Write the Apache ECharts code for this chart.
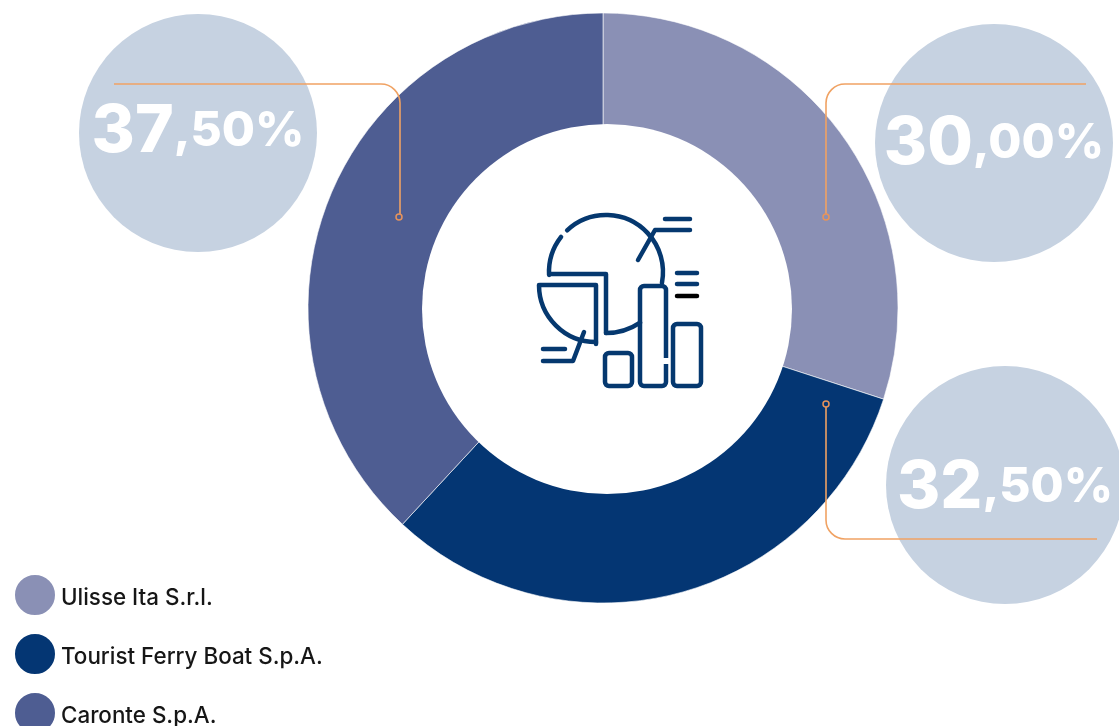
<!DOCTYPE html>
<html><head><meta charset="utf-8">
<style>html,body{margin:0;padding:0;background:#fff;overflow:hidden}#c{width:1119px;height:726px}</style>
<script src="https://cdn.jsdelivr.net/npm/echarts@6/dist/echarts.min.js"></script>
</head><body><div id="c"></div>
<script>
const names = ['Ulisse Ita S.r.l.', 'Tourist Ferry Boat S.p.A.', 'Caronte S.p.A.'];
// Slice sizes as drawn in the picture (the last split sits slightly off the printed shares)
const sliceValues = [30.0, 31.9, 38.1];
const printedValues = ['30,00', '32,50', '37,50'];
const colors = ['#8a90b5', '#043673', '#4e5d92'];
const bubbleCenters = [[994, 143], [1005, 485], [198, 133]];
const textShift = [0, 2, -2];
const ORANGE = '#f0a263', NAVY = '#05386f', F = 'Inter, "Open Sans", sans-serif';
const SW = 4.5;
const rad = d => d * Math.PI / 180;

const line = (x1, y1, x2, y2, color = ORANGE, w = 1.6, cap = 'butt') => ({type: 'line', z: 10, silent: true,
  shape: {x1, y1, x2, y2}, style: {stroke: color, lineWidth: w, lineCap: cap}});
const arc = (cx, cy, r, a, b, color = ORANGE, w = 1.6, cap = 'butt') => ({type: 'arc', z: 10, silent: true,
  shape: {cx, cy, r, startAngle: rad(a), endAngle: rad(b), clockwise: true},
  style: {stroke: color, fill: null, lineWidth: w, lineCap: cap}});
const dot = (cx, cy) => ({type: 'circle', z: 10, silent: true, shape: {cx, cy, r: 3},
  style: {stroke: '#e8935a', fill: 'none', lineWidth: 1.5}});
const poly = (points, color = NAVY, w = SW) => ({type: 'polyline', z: 10, silent: true, shape: {points},
  style: {stroke: color, fill: null, lineWidth: w, lineCap: 'round', lineJoin: 'round'}});
const box = (x, y, width, height) => ({type: 'rect', z: 10, silent: true, shape: {x, y, width, height, r: 4},
  style: {stroke: NAVY, fill: null, lineWidth: SW}});

const bubbles = [];
printedValues.forEach((v, i) => {
  const [cx, cy] = bubbleCenters[i];
  const [a, b] = v.split(',');
  bubbles.push({type: 'circle', z: 1, silent: true, shape: {cx, cy, r: 119}, style: {fill: '#c6d2e1'}});
  bubbles.push({type: 'text', z: 5, silent: true, x: cx, y: cy + 1 + textShift[i], style: {
    text: `{a|${a}}{b|,${b}%}`, align: 'center', verticalAlign: 'middle', fill: '#fff',
    rich: {a: {fontFamily: F, fontWeight: 800, fontSize: 66, fill: '#fff'},
           b: {fontFamily: F, fontWeight: 800, fontSize: 48, fill: '#fff'}}}});
});

const leaders = [
  line(114, 84, 381, 84), arc(381, 103, 19, -90, 0), line(400, 103, 400, 214), dot(399, 217),
  line(1086, 84, 845, 84), arc(845, 103, 19, 180, 270), line(826, 103, 826, 214), dot(826, 217),
  line(826, 407, 826, 520), arc(845, 520, 19, 90, 180), line(845, 539, 1097, 539), dot(826, 404)
];

const R = 'round';
const hole = {type: 'circle', z: 3, silent: true, shape: {cx: 607, cy: 309, r: 185}, style: {fill: '#fff'}};
const tallGap = {...line(666, 358, 666, 364, '#fff', 6), z: 11};
const icon = [
  arc(606, 272, 57, -133, 11, NAVY, SW, R), arc(606, 272, 57, 177, 218, NAVY, SW, R), arc(606, 272, 61, 56, 90, NAVY, SW, R),
  poly([[550, 274], [606, 274], [606, 333]]),
  poly([[540, 285], [596, 285], [596, 344]]), arc(596, 285, 57, 90, 180, NAVY, SW, R),
  line(665, 219, 690, 219, NAVY, SW, R), poly([[638, 260], [655, 230], [690, 230]]),
  line(677, 273, 697, 273, NAVY, SW, R), line(677, 284, 697, 284, NAVY, SW, R), line(677, 296, 697, 296, '#000', SW, R),
  line(543, 349, 565, 349, NAVY, SW, R), poly([[543, 361], [573, 361], [584, 332]]),
  box(605, 353, 27, 33), box(673, 324, 28, 62), box(640, 286, 26, 100), tallGap
];

echarts.init(document.getElementById('c'), null, {renderer: 'canvas'}).setOption({
  animation: false,
  backgroundColor: '#fff',
  color: colors,
  legend: {
    orient: 'vertical', left: 13, top: 573, height: 200, padding: 0,
    itemWidth: 42, itemHeight: 42, itemGap: 15, icon: 'circle',
    selectedMode: false, data: names,
    formatter: name => `{t|${name}}`,
    textStyle: {rich: {t: {fontFamily: F, fontSize: 22.4, fontWeight: 500, color: '#161616', padding: [6, 0, 0, 0]}}}
  },
  series: [{
    type: 'pie', center: [603, 308], radius: [170, 295], startAngle: 90, clockwise: true,
    silent: true, label: {show: false}, labelLine: {show: false},
    itemStyle: {borderColor: '#fff', borderWidth: 0.6},
    data: names.map((name, i) => ({name, value: sliceValues[i]}))
  }],
  graphic: {elements: [hole, ...bubbles, ...leaders, ...icon]}
});
</script></body></html>
